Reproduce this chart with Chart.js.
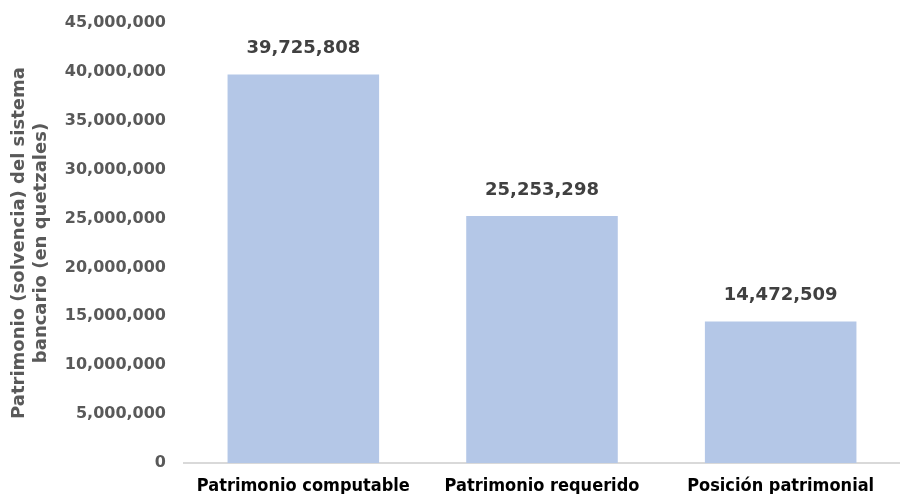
<!DOCTYPE html>
<html>
<head>
<meta charset="utf-8">
<script src="https://cdn.jsdelivr.net/npm/chart.js@4"></script>
<style>
  html, body { margin: 0; padding: 0; background: #fff; }
  #wrap { width: 900px; height: 494px; }
</style>
</head>
<body>
<div id="wrap"><canvas id="chart"></canvas></div>
<script>
const categories = ['Patrimonio computable', 'Patrimonio requerido', 'Posición patrimonial']
const values = [39725808, 25253298, 14472509]
const yTitle = ['Patrimonio (solvencia) del sistema', 'bancario (en quetzales)']

const fmt = v => v.toLocaleString('en-US')
const FONT = '"DejaVu Sans", Arial, sans-serif'

// numbers above each bar
const valueLabels = {
    id: 'valueLabels',
    afterDatasetsDraw(chart) {
        const ctx = chart.ctx
        const meta = chart.getDatasetMeta(0)
        ctx.save()
        ctx.font = 'bold 18px ' + FONT
        ctx.fillStyle = '#404040'
        ctx.textAlign = 'center'
        ctx.textBaseline = 'middle'
        meta.data.forEach((bar, i) => {
            ctx.fillText(fmt(values[i]), bar.x, bar.y - 26)
        })
        ctx.restore()
    }
}

new Chart(document.getElementById('chart'), {
    type: 'bar',
    data: {
        labels: categories,
        datasets: [{
            data: values,
            backgroundColor: '#B4C7E7',
            categoryPercentage: 1,
            barPercentage: 0.635
        }]
    },
    options: {
        responsive: true,
        maintainAspectRatio: false,
        animation: false,
        layout: { padding: { top: 23, right: 0, bottom: 0, left: 0 } },
        plugins: {
            legend: { display: false },
            tooltip: { enabled: false }
        },
        scales: {
            y: {
                min: 0,
                max: 45000000,
                afterFit: s => {
                    s.width = 184
                    s.paddingTop = 0
                    s.paddingBottom = 0
                },
                border: { display: false },
                grid: { display: false, drawTicks: false },
                ticks: {
                    stepSize: 5000000,
                    padding: 18,
                    color: '#595959',
                    font: { family: FONT, size: 16, weight: 'bold' },
                    callback: v => fmt(v)
                },
                title: {
                    display: true,
                    text: yTitle,
                    color: '#595959',
                    padding: { top: 9, bottom: 0 },
                    font: { family: FONT, size: 18, weight: 'bold', lineHeight: 1.2 }
                }
            },
            x: {
                afterFit: s => { s.height = 31 },
                border: { display: true, color: '#D9D9D9', width: 2 },
                grid: { display: false, drawTicks: false },
                ticks: {
                    padding: 13,
                    color: '#000',
                    font: { family: '"Liberation Sans Narrow", "DejaVu Sans Condensed", sans-serif', size: 18, weight: 'bold' }
                }
            }
        }
    },
    plugins: [valueLabels]
})
</script>
</body>
</html>
